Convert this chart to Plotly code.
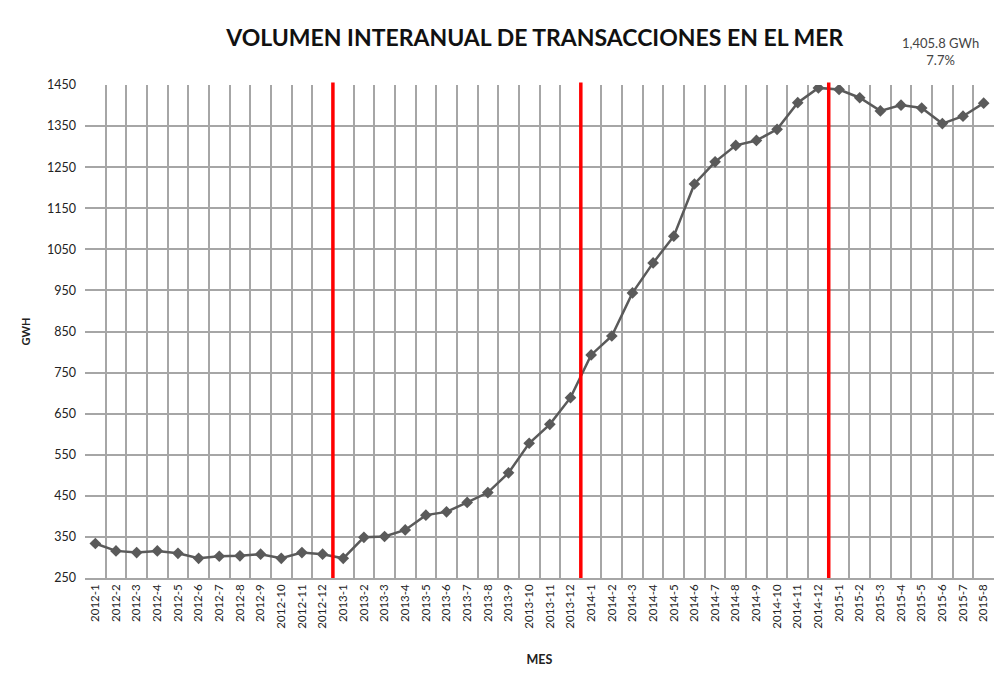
import plotly.graph_objects as go

months = (
    [f"2012-{m}" for m in range(1, 13)]
    + [f"2013-{m}" for m in range(1, 13)]
    + [f"2014-{m}" for m in range(1, 13)]
    + [f"2015-{m}" for m in range(1, 9)]
)
gwh = [
    334, 316, 312, 316, 310, 298, 303, 304, 308, 298, 312, 308,
    298, 349, 351, 367, 403, 411, 434, 458, 506, 578, 624, 689,
    793, 839, 944, 1017, 1082, 1209, 1263, 1303, 1315, 1342, 1407, 1443,
    1439, 1419, 1387, 1401, 1394, 1356, 1374, 1405.8,
]
title_text = "VOLUMEN INTERANUAL DE TRANSACCIONES EN EL MER"
note_lines = ["1,405.8 GWh", "7.7%"]

font_family = "Lato, 'Open Sans', sans-serif"

fig = go.Figure()
fig.add_trace(go.Scatter(
    x=months, y=gwh, mode="lines+markers",
    line=dict(color="#5a5a5a", width=2.5),
    marker=dict(symbol="diamond", size=9, color="#5a5a5a"),
    showlegend=False,
))

# year separators: boundary before each January (except the first)
for i, m in enumerate(months):
    if m.endswith("-1") and i > 0:
        fig.add_shape(type="line", xref="x", yref="paper",
                      x0=i - 0.5, x1=i - 0.5, y0=0, y1=1.005,
                      line=dict(color="#ff0000", width=3.5))

fig.update_layout(
    width=994, height=683,
    margin=dict(l=85, r=0, t=85, b=105, autoexpand=False),
    paper_bgcolor="white", plot_bgcolor="white",
    font=dict(family=font_family, color="#222"),
    title=dict(text="<b>" + title_text + "</b>", x=0.538, xanchor="center",
               y=0.945, yanchor="middle",
               font=dict(size=23, color="#111", family=font_family)),
    annotations=[dict(text="<br>".join(note_lines), xref="paper", yref="paper",
                      x=0.941, y=1.068, xanchor="center", yanchor="middle",
                      showarrow=False, align="center",
                      font=dict(size=13, color="#444"))],
)
fig.update_xaxes(
    type="category", tickson="boundaries", tickangle=-90,
    showgrid=True, gridcolor="#a6a6a6", gridwidth=1.5,
    showline=True, linecolor="#a6a6a6", linewidth=1.5,
    ticks="", tickfont=dict(size=11.5, color="#222"),
    range=[-0.5, len(months) - 0.5], automargin=False,
    title=dict(text="<b>MES</b>", font=dict(size=12.5, color="#222"), standoff=28),
)
fig.update_yaxes(
    range=[250, 1450], tick0=250, dtick=100,
    showgrid=True, gridcolor="#a6a6a6", gridwidth=1.5,
    zeroline=False, ticks="", ticklabelstandoff=8, automargin=False,
    tickfont=dict(size=12.5, color="#222"),
    title=dict(text="<b>GWH</b>", font=dict(size=11, color="#222"), standoff=14),
)

fig.write_html("out.html", config={"displayModeBar": False},
               post_script="document.body.style.margin='0';document.body.style.overflow='hidden';")
